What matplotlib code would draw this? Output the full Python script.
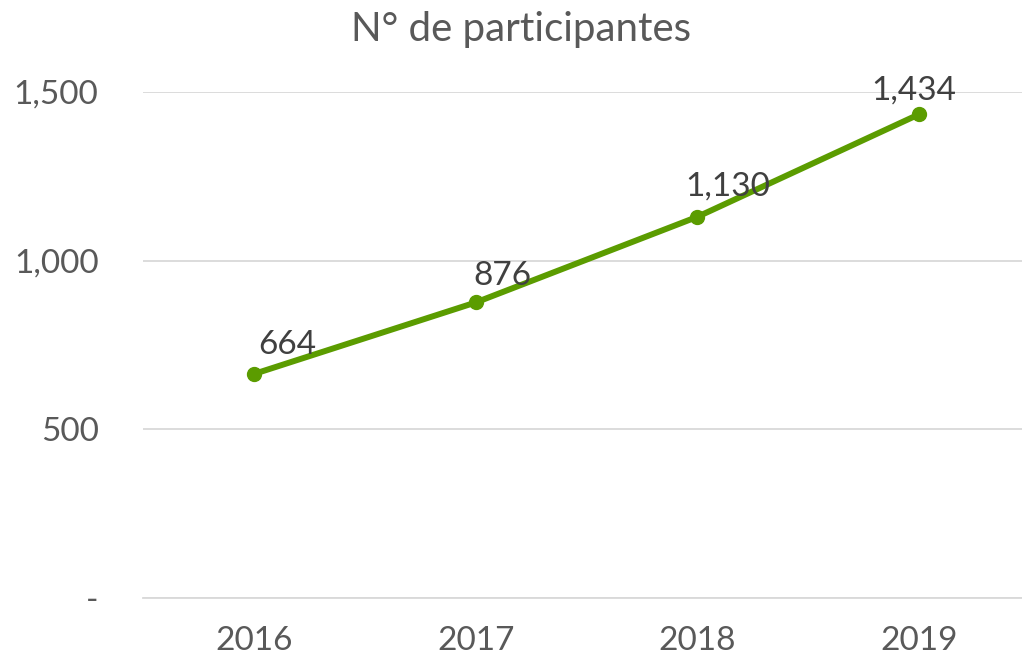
import matplotlib
matplotlib.use("Agg")
import matplotlib.pyplot as plt
from matplotlib.ticker import FuncFormatter

years = ["2016", "2017", "2018", "2019"]
participants = [664, 876, 1130, 1434]
title = "N° de participantes"

label_offsets = [(24, 21), (19, 19), (22, 22), (-4, 17)]  # points

plt.rcParams['font.family'] = ['Lato', 'DejaVu Sans']
text_color = "#595959"
line_color = "#5B9C00"

fig = plt.figure(figsize=(10.22, 6.62), dpi=100)
ax = fig.add_axes([143/1022, (662-598)/662, (1030-143)/1022, (598-92)/662])

x = list(range(len(years)))
ax.plot(x, participants, color=line_color, linewidth=4.3, marker="o", markersize=10,
        solid_capstyle="round", zorder=3)

for xi, v, off in zip(x, participants, label_offsets):
    ax.annotate(f"{v:,}", (xi, v), xytext=off, textcoords="offset points",
                ha="center", va="center", fontsize=24, color="#404040", zorder=4)

ax.set_xlim(-0.5, 3.5)
ax.set_ylim(0, 1500)
ax.set_yticks([0, 500, 1000, 1500])
ax.yaxis.set_major_formatter(FuncFormatter(lambda v, p: "-" if v == 0 else f"{int(v):,}"))
ax.set_xticks(x)
ax.set_xticklabels(years)
ax.tick_params(axis="both", length=0, labelsize=24, colors=text_color)
ax.tick_params(axis="y", pad=32)
ax.tick_params(axis="x", pad=20)
ax.grid(axis="y", color="#D9D9D9", linewidth=1.3)
ax.set_axisbelow(True)
for s in ax.spines.values():
    s.set_visible(False)
ax.spines["bottom"].set_visible(True)
ax.spines["bottom"].set_color("#D9D9D9")
ax.spines["bottom"].set_linewidth(1.3)

fig.text(521/1022, 1 - 30/662, title, ha="center", va="center", fontsize=29, color=text_color)

fig.savefig("out.png", dpi=100)
